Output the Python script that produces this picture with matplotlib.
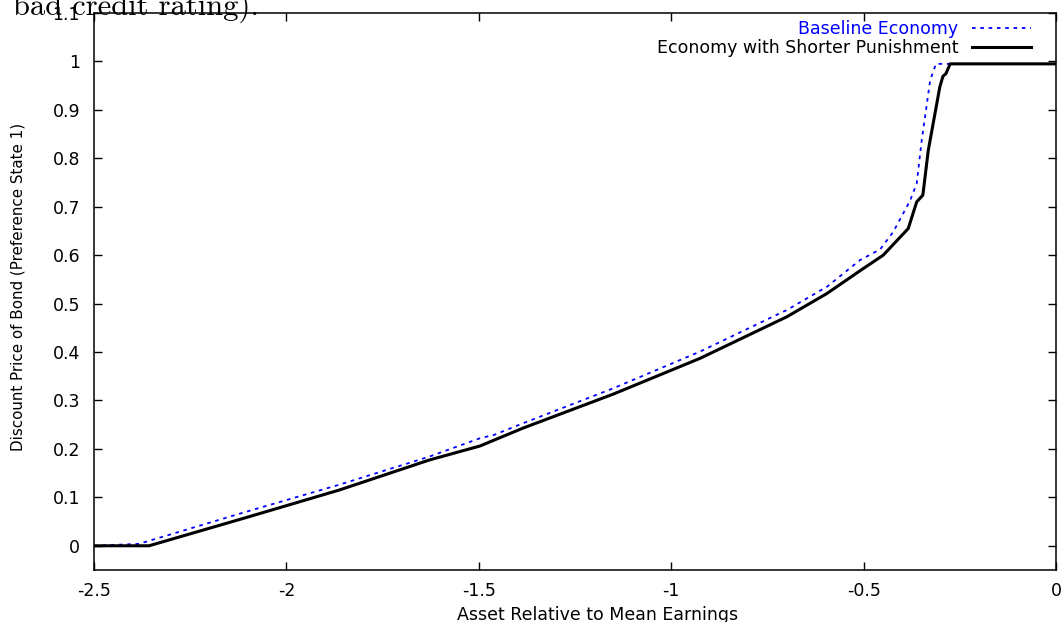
import matplotlib
matplotlib.use('Agg')
import matplotlib.pyplot as plt
import numpy as np

# values
base_x = [-2.5, -2.383, -2.11, -1.863, -1.629, -1.497, -1.46, -1.385, -1.151, -0.925,
          -0.699, -0.595, -0.509, -0.457, -0.423, -0.379, -0.362, -0.349, -0.327, -0.312, 0.0]
base_y = [0.0, 0.004, 0.069, 0.126, 0.184, 0.222, 0.229, 0.253, 0.325, 0.401,
          0.487, 0.535, 0.590, 0.612, 0.648, 0.713, 0.748, 0.837, 0.961, 0.995, 0.995]

short_x = [-2.5, -2.357, -2.11, -1.863, -1.629, -1.497, -1.385, -1.151, -0.925, -0.699,
           -0.595, -0.509, -0.449, -0.384, -0.362, -0.346, -0.332, -0.302, -0.294, -0.286, -0.275, 0.0]
short_y = [0.0, 0.0, 0.057, 0.115, 0.177, 0.206, 0.243, 0.313, 0.387, 0.473,
           0.521, 0.568, 0.600, 0.655, 0.710, 0.724, 0.816, 0.947, 0.969, 0.975, 0.995, 0.995]

xticks = [-2.5, -2, -1.5, -1, -0.5, 0]
yticks = np.round(np.arange(0, 1.11, 0.1), 1)

fs = 12.5
fig = plt.figure(figsize=(10.61, 6.22), dpi=100)
ax = fig.add_axes([94/1061, 52/622, 962/1061, 557/622])

ax.plot(base_x, base_y, color='#0000ff', lw=1.3, dashes=(2, 2.6), label='Baseline Economy')
ax.plot(short_x, short_y, color='black', lw=2.2, label='Economy with Shorter Punishment')

ax.set_xlim(-2.5, 0)
ax.set_ylim(-0.05, 1.1)
ax.set_xticks(xticks)
ax.set_xticklabels(['-2.5', '-2', '-1.5', '-1', '-0.5', '0'])
ax.set_yticks(yticks)
ax.set_yticklabels(['%g' % v for v in yticks])
ax.tick_params(direction='in', length=6, width=1, top=True, right=True, labelsize=fs)
ax.tick_params(axis='y', pad=10)
ax.tick_params(axis='x', pad=9)
for s in ax.spines.values():
    s.set_linewidth(1.1)

ax.set_xlabel('Asset Relative to Mean Earnings', fontsize=fs)
ax.set_ylabel('Discount Price of Bond (Preference State 1)', fontsize=10.9)
ax.xaxis.set_label_coords(0.523, -0.064)
ax.yaxis.set_label_coords(-0.0717, 0.508)

leg = ax.legend(loc='upper right', bbox_to_anchor=(0.978, 0.993),
                frameon=False, markerfirst=False, fontsize=fs, handlelength=3.4,
                handletextpad=0.8, borderpad=0.2, borderaxespad=0, labelspacing=0.05)
leg.get_texts()[0].set_color('#0000ff')

fig.text(13/1061, (622-15)/622, 'bad credit rating).', family='cmr10', fontsize=22,
         va='baseline', ha='left')

fig.savefig('out.png', dpi=100)
